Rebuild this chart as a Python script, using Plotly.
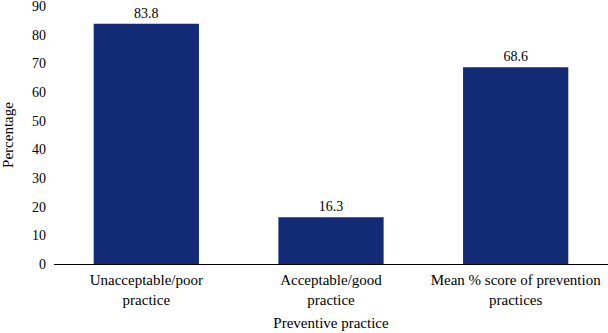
import plotly.graph_objects as go

categories = ["Unacceptable/poor<br>practice", "Acceptable/good<br>practice",
              "Mean % score of prevention<br>practices"]
values = [83.8, 16.3, 68.6]
value_labels = ["83.8", "16.3", "68.6"]

FAM = "Liberation Serif"

fig = go.Figure(go.Bar(
    x=categories, y=values, text=value_labels, textposition="outside",
    marker=dict(color="#132A76", line=dict(width=0)),
    textfont=dict(color="black", size=14, family=FAM),
    cliponaxis=False,
))
fig.update_layout(
    width=608, height=333,
    margin=dict(l=54, r=0, t=6, b=69, autoexpand=False),
    paper_bgcolor="white", plot_bgcolor="white",
    font=dict(family=FAM, size=14, color="black"),
    bargap=0.43,
    showlegend=False,
    xaxis=dict(title=dict(text="Preventive practice", standoff=10,
                          font=dict(family=FAM, size=15)),
               tickfont=dict(family=FAM, size=15),
               showline=True, linecolor="black", linewidth=1,
               ticks="", showgrid=False, automargin=False,
               ticklabelstandoff=2),
    yaxis=dict(title=dict(text="Percentage", standoff=16,
                          font=dict(family=FAM, size=15)),
               tickfont=dict(family=FAM, size=14),
               range=[0, 90], dtick=10, showgrid=False, zeroline=False,
               showline=False, ticks="", ticklabelstandoff=7, automargin=False,
               ticklabeloverflow="allow"),
)
fig.write_html("out.html", config={"displayModeBar": False},
               post_script="document.body.style.margin='0';document.body.style.overflow='hidden';")
